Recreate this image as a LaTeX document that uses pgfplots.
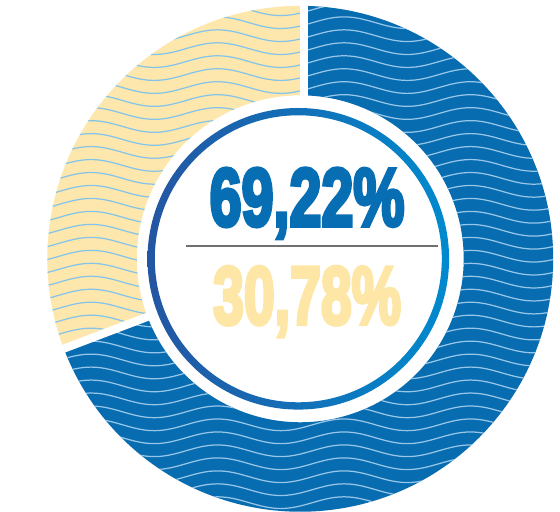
\documentclass[border=0pt]{standalone}
\usepackage{pgfplots}
\pgfplotsset{compat=1.18}
\usepackage{pgfplotstable}
\usepackage{fontspec}
\setmainfont{Liberation Sans}
\newfontfamily\numfont{Liberation Sans}[UprightFont={* Bold}, UprightFeatures={FakeBold=5}]

\definecolor{segblue}{RGB}{8,108,176}
\definecolor{segyellow}{RGB}{253,231,172}
\definecolor{waveonblue}{RGB}{150,198,232}
\definecolor{waveonyellow}{RGB}{132,196,234}
\definecolor{ringdark}{RGB}{36,86,162}
\definecolor{ringlight}{RGB}{0,138,206}
\definecolor{numblue}{RGB}{8,110,180}
\definecolor{numyellow}{RGB}{253,230,166}
\definecolor{rulegray}{RGB}{112,112,112}

\pgfplotstableread{
label value
A 69.22
B 30.78
}\sharetable

% one wavy line at height #1 (axis units), wavelength 3.25, amplitude 0.15
\newcommand{\waveline}[2]{%
  \draw[#2, line width=0.9pt]
    (axis cs:-9.4375,#1)
    sin (axis cs:-8.625,{#1+0.15}) cos (axis cs:-7.8125,#1) sin (axis cs:-7,{#1-0.15}) cos (axis cs:-6.1875,#1)
    sin (axis cs:-5.375,{#1+0.15}) cos (axis cs:-4.5625,#1) sin (axis cs:-3.75,{#1-0.15}) cos (axis cs:-2.9375,#1)
    sin (axis cs:-2.125,{#1+0.15}) cos (axis cs:-1.3125,#1) sin (axis cs:-0.5,{#1-0.15}) cos (axis cs:0.3125,#1)
    sin (axis cs:1.125,{#1+0.15}) cos (axis cs:1.9375,#1) sin (axis cs:2.75,{#1-0.15}) cos (axis cs:3.5625,#1)
    sin (axis cs:4.375,{#1+0.15}) cos (axis cs:5.1875,#1) sin (axis cs:6,{#1-0.15}) cos (axis cs:6.8125,#1)
    sin (axis cs:7.625,{#1+0.15}) cos (axis cs:8.4375,#1);%
}
\def\wavelevels{-6.6,-6.2667,-5.9333,-5.6,-5.2667,-4.9333,-4.6,-4.2667,-3.9333,-3.6,-3.2667,-2.9333,-2.6,-2.2667,-1.9333,-1.6,-1.2667,-0.9333,-0.6,-0.2667,0.0667,0.4,0.7333,1.0667,1.4,1.7333,2.0667,2.4,2.7333,3.0667,3.4,3.7333,4.0667,4.4,4.7333,5.0667,5.4,5.7333,6.0667,6.4,6.7333}

\begin{document}
\pgfplotstablegetelem{0}{value}\of\sharetable
\pgfmathsetmacro{\angA}{90-3.6*\pgfplotsretval}
\pgfmathsetmacro{\angB}{\angA+360}
\def\Ro{6.5}
\def\Ri{4.2}
\begin{tikzpicture}
\begin{axis}[
  x=1cm, y=1cm, disabledatascaling,
  xmin=-7.325, xmax=6.675, ymin=-6.5, ymax=6.65,
  hide axis, clip=true,
]
\coordinate (SW) at (axis cs:-7.325,-6.5);
\coordinate (NE) at (axis cs:6.675,6.65);
% blue slice (69.22 %)
\begin{scope}
\fill[segblue] (axis cs:0,\Ro) arc[start angle=90,end angle=\angA,radius=\Ro]
  -- (axis cs:{\Ri*cos(\angA)},{\Ri*sin(\angA)}) arc[start angle=\angA,end angle=90,radius=\Ri] -- cycle;
\clip (axis cs:0,\Ro) arc[start angle=90,end angle=\angA,radius=\Ro]
  -- (axis cs:{\Ri*cos(\angA)},{\Ri*sin(\angA)}) arc[start angle=\angA,end angle=90,radius=\Ri] -- cycle;
\expandafter\pgfplotsinvokeforeach\expandafter{\wavelevels}{\waveline{#1}{waveonblue}}
\end{scope}
% yellow slice (30.78 %)
\begin{scope}
\fill[segyellow] (axis cs:0,\Ro) arc[start angle=90,end angle=\angB,radius=\Ro]
  -- (axis cs:{\Ri*cos(\angB)},{\Ri*sin(\angB)}) arc[start angle=\angB,end angle=90,radius=\Ri] -- cycle;
\clip (axis cs:0,\Ro) arc[start angle=90,end angle=\angB,radius=\Ro]
  -- (axis cs:{\Ri*cos(\angB)},{\Ri*sin(\angB)}) arc[start angle=\angB,end angle=90,radius=\Ri] -- cycle;
\expandafter\pgfplotsinvokeforeach\expandafter{\wavelevels}{\waveline{#1}{waveonyellow}}
\end{scope}
% white separators
\draw[white, line width=0.21cm] (axis cs:0.09,3.9) -- (axis cs:0.09,7);
\draw[white, line width=0.21cm] (axis cs:{3.9*cos(\angA)},{3.9*sin(\angA)}) -- (axis cs:{7*cos(\angA)},{7*sin(\angA)});
% inner ring border
\path[left color=ringdark, right color=ringlight, even odd rule]
  (axis cs:-0.05,0) circle[radius=3.875] (axis cs:-0.05,0) circle[radius=3.6875];
% numbers
\node[anchor=base, inner sep=0, text=numblue] at (axis cs:0.175,0.85)
  {\scalebox{0.70}[1]{\fontsize{60}{60}\selectfont\numfont 69,22\%}};
\draw[rulegray, line width=0.9pt] (axis cs:-2.925,0.33) -- (axis cs:3.55,0.33);
\node[anchor=base, inner sep=0, text=numyellow] at (axis cs:0.175,-1.675)
  {\scalebox{0.675}[1]{\fontsize{60}{60}\selectfont\numfont 30,78\%}};
\end{axis}
\pgfresetboundingbox
\path (SW) rectangle (NE);
\end{tikzpicture}
\end{document}
